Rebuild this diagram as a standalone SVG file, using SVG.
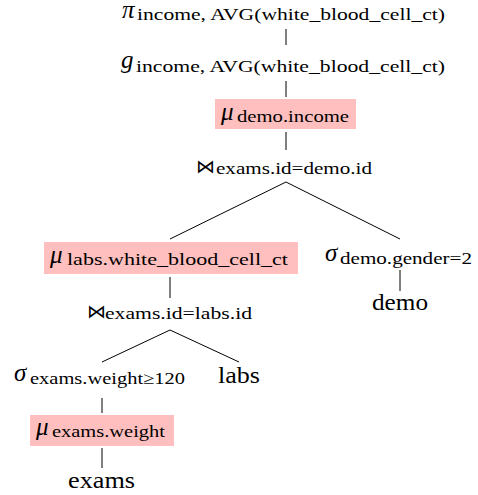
<svg xmlns="http://www.w3.org/2000/svg" width="478" height="495" viewBox="0 0 478 495">
  <style>
    .sym { font-style: italic; font-size: 25px; fill: #000; }
    .sub { font-size: 17px; fill: #000; }
    .rel { font-size: 24px; fill: #000; }
    .join { font-size: 19px; fill: #000; }
    .hl { fill: #ffbfbf; }
    .edge { stroke: #000; stroke-width: 1; fill: none; }
  </style>
  <rect width="478" height="495" fill="#fff"/>

  <g id="edges">
    <line class="edge" x1="286" y1="29" x2="286" y2="45"/>
    <line class="edge" x1="286" y1="81" x2="286" y2="97"/>
    <line class="edge" x1="286" y1="132" x2="286" y2="150"/>
    <line class="edge" x1="286" y1="182" x2="170" y2="239"/>
    <line class="edge" x1="286" y1="182" x2="400" y2="239"/>
    <line class="edge" x1="170" y1="277" x2="170" y2="298"/>
    <line class="edge" x1="400" y1="270" x2="400" y2="291"/>
    <line class="edge" x1="170" y1="330" x2="102" y2="362"/>
    <line class="edge" x1="170" y1="330" x2="239" y2="362"/>
    <line class="edge" x1="102" y1="398" x2="102" y2="413"/>
    <line class="edge" x1="102" y1="448" x2="102" y2="468"/>
  </g>

  <g font-family="Liberation Serif, serif">
    <g id="project">
      <text class="sym" x="122" y="18">π</text>
      <text class="sub" x="137" y="20" textLength="308" lengthAdjust="spacingAndGlyphs">income, AVG(white_blood_cell_ct)</text>
    </g>

    <g id="group">
      <text class="sym" x="121" y="68">g</text>
      <text class="sub" x="136" y="72" textLength="309" lengthAdjust="spacingAndGlyphs">income, AVG(white_blood_cell_ct)</text>
    </g>

    <g id="map-demo-income">
      <rect class="hl" x="215" y="99" width="141" height="30"/>
      <text class="sym" x="221" y="120">μ</text>
      <text class="sub" x="237" y="122" textLength="112" lengthAdjust="spacingAndGlyphs">demo.income</text>
    </g>

    <g id="join-demo">
      <text class="join" x="196" y="173" font-family="DejaVu Serif, serif">⋈</text>
      <text class="sub" x="216" y="174" textLength="156" lengthAdjust="spacingAndGlyphs">exams.id=demo.id</text>
    </g>

    <g id="map-labs-wbc">
      <rect class="hl" x="44" y="242" width="254" height="32"/>
      <text class="sym" x="50" y="263">μ</text>
      <text class="sub" x="67" y="265" textLength="221" lengthAdjust="spacingAndGlyphs">labs.white_blood_cell_ct</text>
    </g>

    <g id="select-gender">
      <text class="sym" x="325" y="261">σ</text>
      <text class="sub" x="340" y="264" textLength="132" lengthAdjust="spacingAndGlyphs">demo.gender=2</text>
    </g>

    <g id="demo">
      <text class="rel" x="372" y="310" textLength="56" lengthAdjust="spacingAndGlyphs">demo</text>
    </g>

    <g id="join-labs">
      <text class="join" x="87" y="318" font-family="DejaVu Serif, serif">⋈</text>
      <text class="sub" x="105" y="319" textLength="147" lengthAdjust="spacingAndGlyphs">exams.id=labs.id</text>
    </g>

    <g id="select-weight">
      <text class="sym" x="14" y="381">σ</text>
      <text class="sub" x="30" y="384" textLength="155" lengthAdjust="spacingAndGlyphs">exams.weight≥120</text>
    </g>

    <g id="labs">
      <text class="rel" x="218" y="383" textLength="42" lengthAdjust="spacingAndGlyphs">labs</text>
    </g>

    <g id="map-exams-weight">
      <rect class="hl" x="30" y="415" width="144" height="31"/>
      <text class="sym" x="36" y="435">μ</text>
      <text class="sub" x="52" y="437" textLength="113" lengthAdjust="spacingAndGlyphs">exams.weight</text>
    </g>

    <g id="exams">
      <text class="rel" x="68" y="488" textLength="67" lengthAdjust="spacingAndGlyphs">exams</text>
    </g>
  </g>
</svg>
